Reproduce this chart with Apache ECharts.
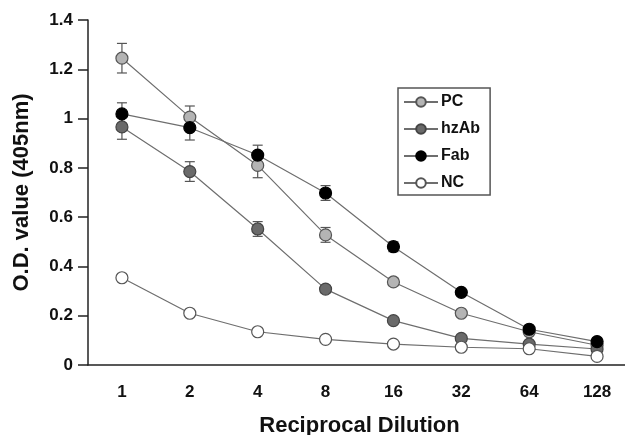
<!DOCTYPE html>
<html>
<head>
<meta charset="utf-8">
<script src="https://cdn.jsdelivr.net/npm/echarts@6/dist/echarts.min.js"></script>
<style>
  html, body { margin: 0; padding: 0; background: #fff; }
  #chart { width: 625px; height: 435px; }
</style>
</head>
<body>
<div id="chart"></div>
<script>
// dilution categories
const dilutions = ['1', '2', '4', '8', '16', '32', '64', '128']

// O.D. values
const pc   = [1.245, 1.006, 0.81, 0.528, 0.337, 0.21, 0.135, 0.08]
const hzAb = [0.966, 0.785, 0.552, 0.308, 0.18, 0.108, 0.085, 0.065]
const fab  = [1.019, 0.963, 0.852, 0.698, 0.48, 0.295, 0.145, 0.095]
const nc   = [0.354, 0.21, 0.135, 0.104, 0.085, 0.072, 0.066, 0.035]

// error (+/-) for each point
const pcErr   = [0.06, 0.045, 0.05, 0.03, 0.015, 0.01, 0.01, 0.01]
const hzAbErr = [0.05, 0.04, 0.03, 0.015, 0.01, 0.01, 0.01, 0.01]
const fabErr  = [0.045, 0.05, 0.04, 0.03, 0.02, 0.01, 0.01, 0.01]
const ncErr   = [0.01, 0.01, 0.01, 0.01, 0.01, 0.01, 0.01, 0.01]

const lineColor = '#6e6e6e'

function errorSeries(vals, errs) {
  return {
    type: 'custom',
    silent: true,
    z: 1,
    data: vals.map((v, i) => [i, v - errs[i], v + errs[i]]),
    renderItem: (params, api) => {
      const lo = api.coord([api.value(0), api.value(1)])
      const hi = api.coord([api.value(0), api.value(2)])
      const w = 5
      const st = { stroke: '#555', lineWidth: 1.2 }
      return {
        type: 'group',
        children: [
          { type: 'line', shape: { x1: lo[0], y1: lo[1], x2: hi[0], y2: hi[1] }, style: st },
          { type: 'line', shape: { x1: lo[0] - w, y1: lo[1], x2: lo[0] + w, y2: lo[1] }, style: st },
          { type: 'line', shape: { x1: hi[0] - w, y1: hi[1], x2: hi[0] + w, y2: hi[1] }, style: st }
        ]
      }
    }
  }
}

function lineSeries(name, vals, fill, border) {
  return {
    name: name,
    type: 'line',
    data: vals,
    z: 3,
    symbol: 'circle',
    symbolSize: 12,
    lineStyle: { color: lineColor, width: 1.2 },
    itemStyle: { color: fill, borderColor: border, borderWidth: 1.2 }
  }
}

const chart = echarts.init(document.getElementById('chart'))
chart.setOption({
  animation: false,
  backgroundColor: '#fff',
  textStyle: { fontFamily: 'Liberation Sans' },
  grid: { left: 88, right: -6, top: 20, bottom: 70, containLabel: false, outerBoundsMode: 'none' },
  legend: {
    left: 398, top: 88,
    orient: 'vertical',
    padding: [6, 10, 4, 5],
    itemGap: 11,
    itemWidth: 34,
    itemHeight: 12,
    borderColor: '#555',
    borderWidth: 1.5,
    textStyle: { fontSize: 16, fontWeight: 'bold', color: '#111', fontFamily: 'Liberation Sans', padding: [0, 0, 0, -2] },
    data: ['PC', 'hzAb', 'Fab', 'NC']
  },
  xAxis: {
    type: 'category',
    data: dilutions,
    boundaryGap: true,
    name: 'Reciprocal Dilution',
    nameLocation: 'middle',
    nameGap: 50,
    nameTextStyle: { fontSize: 22, fontWeight: 'bold', color: '#111' },
    axisLine: { lineStyle: { color: '#222', width: 1.5 } },
    axisTick: { inside: false, length: 6, lineStyle: { color: '#222', width: 1.5 } },
    axisLabel: { fontSize: 17, fontWeight: 'bold', color: '#111', margin: 19 },
    splitLine: { show: false }
  },
  yAxis: {
    type: 'value',
    min: 0, max: 1.4, interval: 0.2,
    name: 'O.D. value (405nm)',
    nameLocation: 'middle',
    nameGap: 55,
    nameTextStyle: { fontSize: 22, fontWeight: 'bold', color: '#111' },
    axisLine: { show: true, lineStyle: { color: '#222', width: 1.5 } },
    axisTick: { show: true, length: 10, lineStyle: { color: '#222', width: 1.5 } },
    axisLabel: { fontSize: 17, fontWeight: 'bold', color: '#111', margin: 15,
      formatter: v => String(Math.round(v * 10) / 10) },
    splitLine: { show: false }
  },
  series: [
    errorSeries(pc, pcErr),
    errorSeries(hzAb, hzAbErr),
    errorSeries(fab, fabErr),
    errorSeries(nc, ncErr),
    lineSeries('PC', pc, '#b4b4b4', '#555'),
    lineSeries('hzAb', hzAb, '#6a6a6a', '#444'),
    lineSeries('Fab', fab, '#000', '#000'),
    lineSeries('NC', nc, '#fff', '#555')
  ]
})
</script>
</body>
</html>
